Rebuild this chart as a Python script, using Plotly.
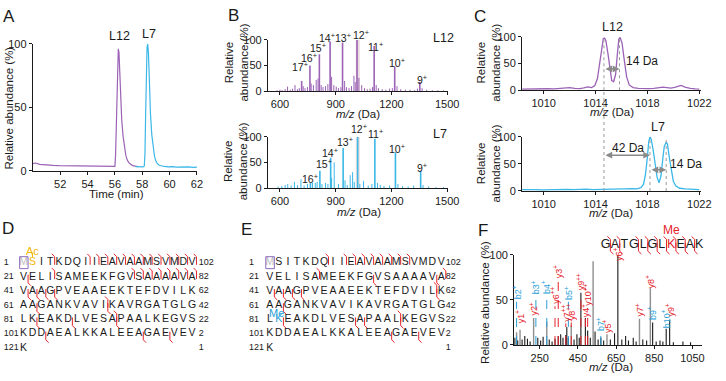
import plotly.graph_objects as go

# ======================= DATA =======================
# Panel A: extracted ion chromatograms
a_time_l12 = [50.0, 50.2, 50.5, 50.8, 51.1, 51.5, 51.9, 52.3, 52.7, 53.1, 53.5, 53.9, 54.3, 54.7,
              55.1, 55.5, 55.8, 56.0, 56.05, 56.1, 56.15, 56.2, 56.25, 56.3, 56.35, 56.42, 56.5,
              56.6, 56.7, 56.8, 56.9, 57.0, 57.15, 57.3, 57.5, 57.7]
a_int_l12 = [5.5, 6.0, 5.0, 4.6, 4.4, 4.2, 4.0, 3.9, 4.1, 3.8, 3.7, 3.9, 3.5, 3.6,
             3.4, 3.5, 3.3, 3.4, 12, 38, 70, 88, 96, 93, 80, 58, 40,
             27, 18, 12, 8.5, 6.5, 5.0, 4.0, 3.5, 3.2]
a_time_l7 = [57.5, 57.7, 57.9, 58.05, 58.15, 58.2, 58.25, 58.3, 58.35, 58.4, 58.45, 58.5, 58.55,
             58.6, 58.7, 58.8, 58.9, 59.0, 59.1, 59.25, 59.4, 59.6, 59.9, 60.2, 60.5, 60.8,
             61.1, 61.4, 61.7, 62.0]
a_int_l7 = [3.2, 3.0, 2.9, 3.0, 3.5, 14, 45, 80, 97, 100, 93, 78, 60,
            45, 28, 17, 11, 7.5, 5.5, 4.2, 3.6, 3.3, 3.0, 3.2, 2.8, 3.0,
            2.7, 2.9, 2.6, 2.8]
a_labels = ["L12", "L7"]
a_label_t = [56.36, 58.46]
a_label_y = [99, 101]

# Panel B: intact-protein charge-state envelopes
b_l12_charge = [17, 16, 15, 14, 13, 12, 11, 10, 9]
b_l12_charge_mz = [716.7, 761.4, 812.1, 870.0, 936.9, 1014.8, 1107.0, 1217.6, 1352.8]
b_l12_charge_int = [20, 50, 72, 97, 95, 100, 88, 48, 18]
b_l12_label_mz = [710, 754, 804, 851, 939, 1037, 1116, 1231, 1363]
b_l12_label_y = [49, 66, 85, 104, 104, 111, 87, 55, 22]
b_l12_minor_mz = [585, 600, 612, 628, 641, 655, 668, 681, 694, 704, 725, 735, 748, 768, 780, 795,
                  805, 822, 832, 845, 858, 878, 890, 903, 915, 928, 948, 958, 972, 985, 998,
                  1005, 1025, 1040, 1055, 1070, 1085, 1098, 1118, 1130, 1150, 1170, 1190, 1205,
                  1230, 1250, 1275, 1300, 1325, 1340, 1365, 1390, 1420, 1450, 1480]
b_l12_minor_int = [2, 3, 2, 4, 9, 3, 5, 12, 4, 6, 10, 6, 8, 15, 12, 22,
                   25, 12, 8, 10, 14, 28, 12, 9, 6, 8, 20, 8, 6, 10, 30,
                   18, 26, 12, 6, 4, 5, 8, 12, 6, 4, 3, 5, 6,
                   10, 4, 3, 3, 2, 5, 6, 3, 2, 2, 1.5]

b_l7_charge = [16, 15, 14, 13, 12, 11, 10, 9]
b_l7_charge_mz = [763.9, 814.8, 872.9, 940.0, 1018.2, 1110.7, 1221.6, 1357.3]
b_l7_charge_int = [10, 34, 59, 78, 100, 96, 70, 34]
b_l7_label_mz = [763, 838, 869, 948, 1027, 1116, 1231, 1363]
b_l7_label_y = [19, 48, 69, 91, 117, 106, 78, 41]
b_l7_minor_mz = [590, 610, 628, 642, 660, 678, 695, 713, 730, 748, 775, 790, 800, 826, 845, 858,
                 878, 892, 915, 950, 962, 978, 991, 1000, 1030, 1050, 1075, 1095, 1125, 1140,
                 1160, 1190, 1235, 1260, 1290, 1320, 1370, 1400, 1440, 1480]
b_l7_minor_int = [3, 4, 6, 8, 5, 12, 6, 17, 5, 8, 10, 10, 12, 8, 10, 8,
                  20, 50, 8, 15, 6, 25, 31, 12, 8, 14, 5, 8, 10, 6,
                  4, 5, 8, 4, 3, 5, 6, 3, 2, 2]
b_band = [1008, 1030]

# Panel C: zoom on the 12+ charge state
c_l12_mz = [1008.35, 1008.8, 1009.3, 1009.8, 1010.3, 1010.8, 1011.3, 1011.7, 1012.0, 1012.4,
            1012.8, 1013.1, 1013.4, 1013.7, 1013.95, 1014.15, 1014.3, 1014.45, 1014.6, 1014.7,
            1014.8, 1014.95, 1015.1, 1015.25, 1015.4, 1015.55, 1015.7, 1015.8, 1015.9, 1016.05,
            1016.2, 1016.4, 1016.6, 1016.9, 1017.3, 1017.7, 1018.1, 1018.5, 1018.9, 1019.2,
            1019.5, 1019.8, 1020.1, 1020.4, 1020.6, 1020.9, 1021.3, 1021.7, 1022.0]
c_l12_int = [2, 2.5, 2, 2.2, 2.8, 2.5, 3, 4, 5, 3.5,
             3, 4.5, 6.5, 5, 9, 22, 48, 80, 97, 98,
             93, 70, 38, 18, 16, 30, 72, 96, 99, 88,
             60, 25, 10, 5, 3.5, 3, 3, 3.5, 4.5, 6,
             5, 4, 5.5, 8, 9, 6, 3.5, 2.5, 2]
c_l7_mz = [1008.35, 1008.9, 1009.4, 1009.9, 1010.4, 1010.9, 1011.4, 1011.8, 1012.3, 1012.8,
           1013.3, 1013.8, 1014.3, 1014.8, 1015.3, 1015.8, 1016.2, 1016.6, 1016.9, 1017.2,
           1017.5, 1017.7, 1017.85, 1018.0, 1018.1, 1018.2, 1018.3, 1018.45, 1018.6, 1018.75,
           1018.9, 1019.05, 1019.2, 1019.3, 1019.45, 1019.55, 1019.7, 1019.85, 1020.0, 1020.2,
           1020.5, 1020.9, 1021.3, 1021.7, 1022.0]
c_l7_int = [2.5, 3, 2.5, 2, 2.5, 3, 3.5, 3, 2.5, 3,
            3.5, 2.5, 3, 2.5, 3, 3.5, 4, 5.5, 4.5, 4,
            6, 12, 30, 62, 90, 100, 95, 75, 48, 25,
            15, 28, 62, 82, 90, 86, 60, 35, 18, 9,
            5, 4, 3.5, 3, 2.5]
c_l12_apex = [1014.65, 1015.85]
c_l7_apex = [1018.2, 1019.45]
c_shift_labels = ["14 Da", "42 Da", "14 Da"]

# Panels D / E: sequence coverage maps
seq = ("MSITKDQIIEAVAAMSVMDV" "VELISAMEEKFGVSAAAAVA" "VAAGPVEAAEEKTEFDVILK"
       "AAGANKVAVIKAVRGATGLG" "LKEAKDLVESAPAALKEGVS" "KDDAEALKKALEEAGAEVEV" "K")
row_start = [1, 21, 41, 61, 81, 101, 121]
row_end = [102, 82, 62, 42, 22, 2, 1]
# (row, position in row after which the cleavage occurs, ion type)
d_marks = [(1, 4, 'y'), (1, 8, 'y'), (1, 9, 'y'), (1, 10, 'y'), (1, 11, 'y'), (1, 12, 'y'),
           (1, 13, 'y'), (1, 14, 'y'), (1, 15, 'y'), (1, 16, 'y'), (1, 17, 'y'), (1, 18, 'y'),
           (1, 19, 'y'), (1, 20, 'y'),
           (2, 1, 'b'), (2, 4, 'y'), (2, 13, 'y'), (2, 14, 'y'), (2, 15, 'y'), (2, 16, 'y'),
           (2, 17, 'y'), (2, 18, 'y'), (2, 19, 'y'), (2, 20, 'y'),
           (3, 1, 'b'), (3, 2, 'b'), (3, 3, 'b'), (3, 4, 'b'),
           (4, 2, 'b'), (4, 10, 'both'),
           (5, 2, 'b'), (5, 6, 'b'), (5, 11, 'both'),
           (6, 3, 'b'), (6, 14, 'b'), (6, 17, 'b')]
e_marks = [(1, 7, 'y'), (1, 9, 'y'), (1, 10, 'y'), (1, 11, 'y'), (1, 12, 'y'), (1, 13, 'y'),
           (1, 14, 'y'), (1, 15, 'y'), (1, 16, 'y'),
           (2, 6, 'y'), (2, 12, 'b'), (2, 19, 'b'), (2, 20, 'y'),
           (3, 1, 'b'), (3, 2, 'b'), (3, 3, 'b'), (3, 4, 'b'), (3, 19, 'both'),
           (4, 2, 'b'),
           (5, 2, 'b'), (5, 10, 'b'), (5, 11, 'b'), (5, 15, 'both'),
           (6, 14, 'b'), (6, 17, 'b')]

# Panel F: MS/MS of GATGLGLK(me)EAK
f_peptide = "GATGLGLKEAK"
f_marks = [(1, 1, 'both'), (1, 2, 'both'), (1, 4, 'both'), (1, 5, 'both'), (1, 6, 'both'),
           (1, 7, 'both'), (1, 8, 'both'), (1, 9, 'both'), (1, 10, 'both')]
f_grey_mz = [129.1, 147.1, 218.2, 287.1, 415.3, 529.8, 602.4, 772.5, 829.5]
f_grey_int = [14, 17, 30, 26, 22, 93, 12, 29, 63]
f_black_mz = [120, 135, 158, 172, 186, 200, 240, 255, 268, 300, 315, 330.2, 347.2, 360, 372,
              386.8, 392, 400.2, 430, 445, 457.2, 465.8, 489.3, 501.3, 515, 540, 556, 570.3,
              585, 620, 642, 659.4, 680, 700, 715, 740, 755, 790, 810, 841.5, 860, 880, 895,
              912.5, 930.6, 950, 1000, 1040]
f_black_int = [8, 5, 6, 10, 7, 4, 8, 5, 9, 6, 4, 7, 10, 12, 8,
               11, 20, 8, 6, 12, 8, 58, 30, 16, 8, 15, 6, 8,
               5, 6, 13, 100, 6, 10, 5, 8, 4, 6, 5, 25, 4, 5, 4,
               18, 28, 3, 4, 3]
f_ion_name = ["b2", "y1", "y2", "b3", "b4", "y6", "y3", "y7", "b5", "y8", "y9", "y4", "y10",
              "b7", "y5", "y6", "y7", "y8", "b9", "b10", "y9"]
f_ion_charge = ["+", "+", "+", "+", "+", "++", "+", "++", "+", "++", "++", "+", "++",
                "+", "+", "+", "+", "+", "+", "+", "+"]
f_ion_mz = [129.07, 147.11, 218.15, 230.11, 287.13, 330.21, 347.19, 386.75, 400.22, 415.26,
            465.78, 489.30, 501.31, 570.32, 602.39, 659.41, 772.49, 829.51, 841.47, 912.51, 930.56]
f_ion_top = [48, 22, 30, 54, 54, 43, 72, 24, 48, 25, 59, 29, 41, 13, 11, 91, 30, 61, 25, 16, 29]
f_ion_dashed = [1, 0, 0, 1, 1, 1, 1, 1, 1, 1, 1, 1, 1, 1, 0, 0, 0, 0, 0, 0, 0]

# ======================= STYLE =======================
W, H = 726, 381
FONT = "Liberation Sans, Arial, sans-serif"
INK = "#1a1a1a"
PURPLE = "#9b62b5"
CYAN = "#3bb8e8"
RED = "#e5232b"
BLUE = "#2a9fd8"
ORANGE = "#f2b705"
ARROW = "#8a8a8a"


def dom_x(a, b):
    return [a / W, b / W]


def dom_y(top, bottom):
    return [1 - bottom / H, 1 - top / H]


def sticks(xs, ys):
    X, Y = [], []
    for x, y in zip(xs, ys):
        X += [x, x, None]
        Y += [0, y, None]
    return X, Y


def mark_lines(marks):
    X, Y = [], []
    for r, c, kind in marks:
        x = c + 0.5
        if kind in ('y', 'both'):
            X += [x - 0.32, x, x, None]
            Y += [r - 0.62, r - 0.42, r + 0.15, None]
        if kind in ('b', 'both'):
            X += [x, x, x + 0.32, None]
            Y += [r - 0.15, r + 0.42, r + 0.62, None]
    return X, Y


fig = go.Figure()


def add(tr, n):
    s = '' if n == 1 else str(n)
    tr.update(xaxis='x' + s, yaxis='y' + s, hoverinfo='skip', showlegend=False)
    fig.add_trace(tr)


# ---- A
add(go.Scatter(x=a_time_l12, y=a_int_l12, mode='lines', line=dict(color=PURPLE, width=1.2)), 1)
add(go.Scatter(x=a_time_l7, y=a_int_l7, mode='lines', line=dict(color=CYAN, width=1.2)), 1)

# ---- B
for n, cmz, cint, mmz, mint, col in [
        (2, b_l12_charge_mz, b_l12_charge_int, b_l12_minor_mz, b_l12_minor_int, PURPLE),
        (3, b_l7_charge_mz, b_l7_charge_int, b_l7_minor_mz, b_l7_minor_int, CYAN)]:
    X, Y = sticks(mmz, mint)
    add(go.Scatter(x=X, y=Y, mode='lines', line=dict(color=col, width=1.0)), n)
    X, Y = sticks(cmz, cint)
    add(go.Scatter(x=X, y=Y, mode='lines', line=dict(color=col, width=1.6)), n)

# ---- C
add(go.Scatter(x=c_l12_mz, y=c_l12_int, mode='lines', line=dict(color=PURPLE, width=1.3)), 4)
add(go.Scatter(x=c_l7_mz, y=c_l7_int, mode='lines', line=dict(color=CYAN, width=1.3)), 5)

# ---- F spectrum
X, Y = sticks(f_grey_mz, f_grey_int)
add(go.Scatter(x=X, y=Y, mode='lines', line=dict(color="#8f8f8f", width=1.4)), 6)
X, Y = sticks(f_black_mz, f_black_int)
add(go.Scatter(x=X, y=Y, mode='lines', line=dict(color=INK, width=1.1)), 6)
for colr, pref in [(BLUE, 'b'), (RED, 'y')]:
    X, Y = [], []
    for nm, mz, top, d in zip(f_ion_name, f_ion_mz, f_ion_top, f_ion_dashed):
        if d and nm.startswith(pref):
            X += [mz, mz, None]
            Y += [0, top, None]
    add(go.Scatter(x=X, y=Y, mode='lines', line=dict(color=colr, width=1, dash='dash')), 6)


# ---- D / E sequence maps
def seq_panel(n, marks, special, left_c, right_c):
    cols, rows, colors = [], [], []
    for i, ch in enumerate(seq):
        cols.append(i % 20 + 1)
        rows.append(i // 20 + 1)
        colors.append(special.get(i + 1, INK))
    X, Y = mark_lines(marks)
    add(go.Scatter(x=X, y=Y, mode='lines', line=dict(color=RED, width=1)), n)
    add(go.Scatter(x=cols, y=rows, mode='text', text=list(seq),
                   textfont=dict(family=FONT, size=10.5, color=colors)), n)
    nrows = list(range(1, len(row_start) + 1))
    add(go.Scatter(x=[left_c] * len(nrows), y=nrows, mode='text', text=[str(v) for v in row_start],
                   textposition='middle right', textfont=dict(family=FONT, size=9, color=INK)), n)
    add(go.Scatter(x=[right_c] * len(nrows), y=nrows, mode='text', text=[str(v) for v in row_end],
                   textposition='middle right', textfont=dict(family=FONT, size=9, color=INK)), n)
    # box around removed initiator Met
    add(go.Scatter(x=[0.55, 1.5, 1.5, 0.55, 0.55], y=[0.58, 0.58, 1.42, 1.42, 0.58], mode='lines',
                   line=dict(color="#8e6bbf", width=1)), n)


seq_panel(7, d_marks, {1: "#bdbdbd", 2: ORANGE}, -1.25, 20.75)
seq_panel(8, e_marks, {1: "#bdbdbd", 82: BLUE}, -1.3, 20.5)
add(go.Scatter(x=[2, 2], y=[0.3, 0.6], mode='lines', line=dict(color=ORANGE, width=1)), 7)

# F peptide
X, Y = mark_lines(f_marks)
add(go.Scatter(x=X, y=Y, mode='lines', line=dict(color=RED, width=1)), 9)
add(go.Scatter(x=list(range(1, len(f_peptide) + 1)), y=[1] * len(f_peptide), mode='text',
               text=list(f_peptide),
               textfont=dict(family=FONT, size=12.5,
                             color=[RED if i == 8 else INK for i in range(1, len(f_peptide) + 1)])), 9)


# ======================= LAYOUT =======================
def data_axis(dom, rng, tickvals, anchor):
    return dict(domain=dom, range=rng, tickvals=tickvals, anchor=anchor, showline=True,
                linecolor=INK, linewidth=1, ticks='outside', ticklen=3, tickwidth=1, tickcolor=INK,
                tickfont=dict(size=11, color=INK, family=FONT), showgrid=False, zeroline=False)


def hidden_axis(dom, rng, anchor):
    return dict(domain=dom, range=rng, visible=False, anchor=anchor, showgrid=False, zeroline=False)


yt = [0, 50, 100]
lay = dict(
    width=W, height=H, margin=dict(l=0, r=0, t=0, b=0, pad=0),
    paper_bgcolor='white', plot_bgcolor='rgba(0,0,0,0)', showlegend=False,
    font=dict(family=FONT, color=INK, size=11),
    xaxis=data_axis(dom_x(33.3, 200), [50, 62], [52, 54, 56, 58, 60, 62], 'y'),
    yaxis=data_axis(dom_y(39, 170), [0, 100], yt, 'x'),
    xaxis2=data_axis(dom_x(272, 455), [535, 1505], [600, 900, 1200, 1500], 'y2'),
    yaxis2=data_axis(dom_y(35, 88), [0, 100], yt, 'x2'),
    xaxis3=data_axis(dom_x(272, 455), [535, 1505], [600, 900, 1200, 1500], 'y3'),
    yaxis3=data_axis(dom_y(135, 188), [0, 100], yt, 'x3'),
    xaxis4=data_axis(dom_x(530, 712), [1008.33, 1022.15], [1010, 1014, 1018, 1022], 'y4'),
    yaxis4=data_axis(dom_y(32, 87), [0, 100], yt, 'x4'),
    xaxis5=data_axis(dom_x(530, 712), [1008.33, 1022.15], [1010, 1014, 1018, 1022], 'y5'),
    yaxis5=data_axis(dom_y(135, 191), [0, 100], yt, 'x5'),
    xaxis6=data_axis(dom_x(522, 713), [116, 1101], [250, 450, 650, 850, 1050], 'y6'),
    yaxis6=data_axis(dom_y(257, 350), [0, 100], yt, 'x6'),
    xaxis7=hidden_axis(dom_x(2, 222), [-1.444, 23.0], 'y7'),
    yaxis7=hidden_axis(dom_y(240, 368), [8.007, -0.701], 'x7'),
    xaxis8=hidden_axis(dom_x(246, 474), [-2.057, 22.83], 'y8'),
    yaxis8=hidden_axis(dom_y(240, 368), [8.007, -0.701], 'x8'),
    xaxis9=hidden_axis(dom_x(605, 720), [-0.0526, 12.05], 'y9'),
    yaxis9=hidden_axis(dom_y(222, 262), [2.02, -0.70], 'x9'),
)

ann = []


def txt(text, x, y, xref='paper', yref='paper', size=11, color=INK, angle=0,
        xanchor='center', yanchor='middle'):
    ann.append(dict(text=text, x=x, y=y, xref=xref, yref=yref, showarrow=False,
                    font=dict(family=FONT, size=size, color=color), textangle=angle,
                    xanchor=xanchor, yanchor=yanchor))


def dtxt(text, x, pct, n, **kw):
    # label on a 0-100 % axis, positioned through the axis domain so it is never hidden
    s = '' if n == 1 else str(n)
    txt(text, x, pct / 100.0, 'x' + s, 'y' + s + ' domain', **kw)


def P(xp, yp):
    return xp / W, 1 - yp / H


# panel letters
for lt, (xx, yy) in zip("ABCDEF", [(9, 11), (237, 10), (487, 11), (8, 230), (250, 231), (490, 232)]):
    a, b = P(xx, yy)
    txt(lt, a, b, size=17)

# axis titles
a, b = P(9, 105); txt("Relative abundance (%)", a, b, angle=-90, size=11.5)
a, b = P(118, 194); txt("Time (min)", a, b, size=11.5)
for (xx, yy) in [(240, 58), (240, 160), (496, 58), (496, 162)]:
    a, b = P(xx, yy); txt("Relative<br>abundance (%)", a, b, angle=-90, size=11.5)
for (xx, yy) in [(363, 111), (365, 213), (621, 109), (620, 214), (620, 373)]:
    a, b = P(xx, yy); txt("<i>m/z</i> (Da)", a, b, size=11.5)
a, b = P(493, 306); txt("Relative abundance (%)", a, b, angle=-90, size=11.5)

# A labels
for lbl, t, yv in zip(a_labels, a_label_t, a_label_y):
    dtxt(lbl, t, yv, 1, size=12.5, yanchor='bottom')

# B labels
for ch, mz, ly in zip(b_l12_charge, b_l12_label_mz, b_l12_label_y):
    dtxt(f"{ch}<sup>+</sup>", mz, ly, 2, size=10.5)
for ch, mz, ly in zip(b_l7_charge, b_l7_label_mz, b_l7_label_y):
    dtxt(f"{ch}<sup>+</sup>", mz, ly, 3, size=10.5)
dtxt("L12", 1482, 104, 2, size=12.5)
dtxt("L7", 1462, 106, 3, size=12.5)

# C labels and arrows
dtxt("L12", 1015.3, 101, 4, size=12.5, yanchor='bottom')
dtxt(c_shift_labels[0], 1017.6, 55, 4, size=12)
dtxt("L7", 1018.8, 101, 5, size=12.5, yanchor='bottom')
dtxt(c_shift_labels[1], 1016.5, 80, 5, size=12)
dtxt(c_shift_labels[2], 1021.0, 50, 5, size=12)


def arrow(x0, x1, y, n):
    ann.append(dict(x=x1, y=y, ax=x0, ay=y, xref='x' + n, yref='y' + n, axref='x' + n, ayref='y' + n,
                    text='', showarrow=True, arrowhead=2, startarrowhead=2, arrowside='end+start',
                    arrowsize=0.9, startarrowsize=0.9, arrowwidth=1.5, arrowcolor=ARROW))


arrow(c_l12_apex[0], c_l12_apex[1], 40, '4')
arrow(c_l12_apex[0], c_l7_apex[0], 66, '5')
arrow(c_l7_apex[0], c_l7_apex[1], 39, '5')

# D / E / F modification labels
txt("Ac", 2, 0.15, 'x7', 'y7', size=11, color=ORANGE)
txt("Me", 1.7, 4.55, 'x8', 'y8', size=11, color=BLUE)
txt("Me", 8, -0.05, 'x9', 'y9', size=12, color=RED)

# F ion labels
for nm, chg, mz, top in zip(f_ion_name, f_ion_charge, f_ion_mz, f_ion_top):
    col = BLUE if nm.startswith('b') else RED
    dtxt(f"{nm}<sup>{chg}</sup>", mz, top, 6, size=9, color=col, angle=-90, yanchor='bottom')

shapes = []
for n, xs_ in [('4', c_l12_apex), ('5', c_l7_apex)]:
    for xv in xs_:
        shapes.append(dict(type='line', xref='x' + n, yref='y' + n, x0=xv, x1=xv, y0=0, y1=100,
                           line=dict(color="#9a9a9a", width=1, dash='dot')))
shapes.append(dict(type='line', xref='x5', yref='paper', x0=c_l12_apex[0], x1=c_l12_apex[0],
                   y0=lay['yaxis5']['domain'][0], y1=lay['yaxis4']['domain'][0],
                   line=dict(color="#9a9a9a", width=1, dash='dot')))
for n in ['2', '3']:
    shapes.append(dict(type='rect', xref='x' + n, yref='y' + n, x0=b_band[0], x1=b_band[1],
                       y0=0, y1=100, fillcolor="#ecdede", line=dict(width=0), layer='below'))

lay['annotations'] = ann
lay['shapes'] = shapes
fig.update_layout(**lay)
fig.write_html("out.html",
               config={'displayModeBar': False, 'staticPlot': True},
               post_script="document.body.style.margin='0px';"
                           "document.documentElement.style.overflow='hidden';")
